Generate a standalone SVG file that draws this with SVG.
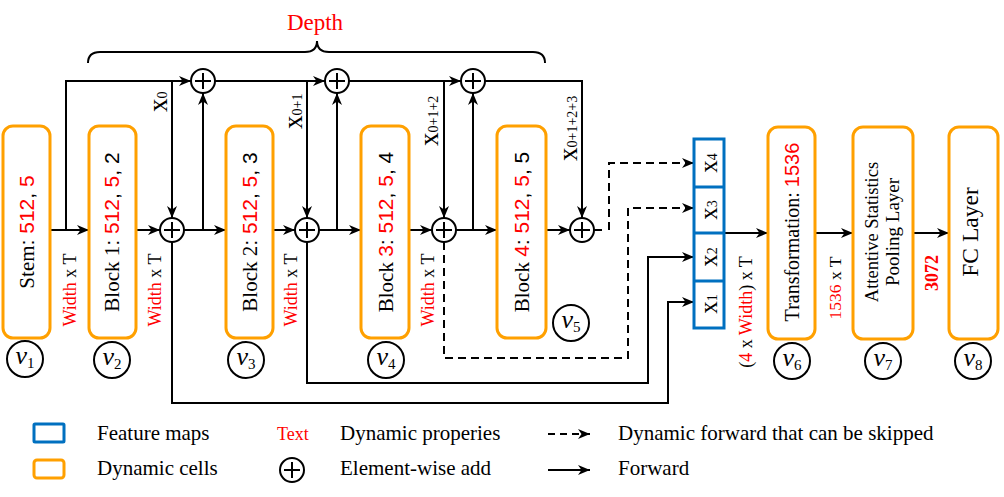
<svg xmlns="http://www.w3.org/2000/svg" width="1004" height="497" viewBox="0 0 1004 497">
<style>
.cell{fill:#fff;stroke:#FFA000;stroke-width:3}
.fm{fill:#fff;stroke:#0070C0;stroke-width:3}
.ln{fill:none;stroke:#000;stroke-width:2}
.dash{fill:none;stroke:#000;stroke-width:2;stroke-dasharray:8,5}
.add{fill:#fff;stroke:#000;stroke-width:2}
.serif{font-family:"Liberation Serif","Times New Roman",serif;fill:#000}
.sans{font-family:"Liberation Sans",Arial,sans-serif}
.red{fill:#FF0000}
.blk{fill:#000}
.lbl{font-size:21px}
.leg{font-family:"Liberation Serif","Times New Roman",serif;font-size:21px;fill:#000}
</style>
<defs>
<marker id="ah" viewBox="0 0 12 10" refX="12" refY="5" markerWidth="12" markerHeight="10" markerUnits="userSpaceOnUse" orient="auto"><path d="M0,0 L12,5 L0,10 L3.5,5 z" fill="#000"/></marker>
<g id="plus"><circle r="12" class="add"/><path d="M-8,0 H8 M0,-8 V8" stroke="#000" stroke-width="2"/></g>
</defs>

<!-- Depth brace -->
<g id="depth">
<path class="ln" d="M88,63 Q88,52 100,52 L305,52 Q317,52 317,41 Q317,52 329,52 L533,52 Q545,52 545,63"/>
<text x="315" y="30" text-anchor="middle" class="serif red" font-size="23" style="fill:#FF0000">Depth</text>
</g>

<g id="connectors">
<path class="ln" d="M50,230 H89" marker-end="url(#ah)"/>
<path class="ln" d="M66,230 V81 H191" marker-end="url(#ah)"/>
<path class="ln" d="M172,81 V218" marker-end="url(#ah)"/>
<path class="ln" d="M136,230 H160" marker-end="url(#ah)"/>
<path class="ln" d="M184,230 H226" marker-end="url(#ah)"/>
<path class="ln" d="M203,230 V93" marker-end="url(#ah)"/>
<path class="ln" d="M215,81 H325" marker-end="url(#ah)"/>
<path class="ln" d="M307,81 V218" marker-end="url(#ah)"/>
<path class="ln" d="M273,230 H295" marker-end="url(#ah)"/>
<path class="ln" d="M319,230 H361" marker-end="url(#ah)"/>
<path class="ln" d="M337,230 V93" marker-end="url(#ah)"/>
<path class="ln" d="M349,81 H461" marker-end="url(#ah)"/>
<path class="ln" d="M444,81 V218" marker-end="url(#ah)"/>
<path class="ln" d="M409,230 H432" marker-end="url(#ah)"/>
<path class="ln" d="M456,230 H497" marker-end="url(#ah)"/>
<path class="ln" d="M473,230 V93" marker-end="url(#ah)"/>
<path class="ln" d="M485,81 H582 V218" marker-end="url(#ah)"/>
<path class="ln" d="M546,230 H570" marker-end="url(#ah)"/>
<path class="ln" d="M594,230 H602"/>
<path class="dash" d="M609,230 V163 H694" marker-end="url(#ah)"/>
<path class="dash" d="M444,242 V358 H628 V208 H694" marker-end="url(#ah)"/>
<path class="ln" d="M307,242 V383 H648 V257 H694" marker-end="url(#ah)"/>
<path class="ln" d="M172,242 V403 H668 V302 H694" marker-end="url(#ah)"/>
<path class="ln" d="M724,233 H768" marker-end="url(#ah)"/>
<path class="ln" d="M815,233 H853" marker-end="url(#ah)"/>
<path class="ln" d="M913,233 H949" marker-end="url(#ah)"/>
</g>

<!-- add nodes -->
<g id="adds">
<use href="#plus" x="172" y="230"/>
<use href="#plus" x="307" y="230"/>
<use href="#plus" x="444" y="230"/>
<use href="#plus" x="582" y="230"/>
<use href="#plus" x="203" y="81"/>
<use href="#plus" x="337" y="81"/>
<use href="#plus" x="473" y="81"/>
</g>

<!-- x labels -->
<g id="xlabels" class="serif">
<text transform="translate(167,112) rotate(-90)"><tspan font-size="27">x</tspan><tspan font-size="14">0</tspan></text>
<text transform="translate(302,129) rotate(-90)"><tspan font-size="27">x</tspan><tspan font-size="14">0+1</tspan></text>
<text transform="translate(438,146) rotate(-90)"><tspan font-size="27">x</tspan><tspan font-size="14">0+1+2</tspan></text>
<text transform="translate(577,161) rotate(-90)"><tspan font-size="27">x</tspan><tspan font-size="14">0+1+2+3</tspan></text>
</g>

<!-- width labels -->
<g id="widthlabels" class="serif" font-size="18">
<text transform="translate(76,290) rotate(-90)" text-anchor="middle"><tspan class="red">Width</tspan> x T</text>
<text transform="translate(161,290) rotate(-90)" text-anchor="middle"><tspan class="red">Width</tspan> x T</text>
<text transform="translate(297,290) rotate(-90)" text-anchor="middle"><tspan class="red">Width</tspan> x T</text>
<text transform="translate(434,290) rotate(-90)" text-anchor="middle"><tspan class="red">Width</tspan> x T</text>
</g>

<g id="stem">
<rect class="cell" x="3" y="126" width="47" height="212" rx="10"/>
<text transform="translate(34,232) rotate(-90)" text-anchor="middle" class="lbl"><tspan class="serif">Stem</tspan><tspan class="sans blk">: </tspan><tspan class="sans red">512</tspan><tspan class="sans blk">, </tspan><tspan class="sans red">5</tspan></text>
</g>
<g id="block1">
<rect class="cell" x="89" y="126" width="47" height="212" rx="10"/>
<text transform="translate(119,232) rotate(-90)" text-anchor="middle" class="lbl"><tspan class="serif">Block 1</tspan><tspan class="sans blk">: </tspan><tspan class="sans red">512</tspan><tspan class="sans blk">, </tspan><tspan class="sans red">5</tspan><tspan class="sans blk">, 2</tspan></text>
</g>
<g id="block2">
<rect class="cell" x="226" y="126" width="47" height="212" rx="10"/>
<text transform="translate(257,232) rotate(-90)" text-anchor="middle" class="lbl"><tspan class="serif">Block 2</tspan><tspan class="sans blk">: </tspan><tspan class="sans red">512</tspan><tspan class="sans blk">, </tspan><tspan class="sans red">5</tspan><tspan class="sans blk">, 3</tspan></text>
</g>
<g id="block3">
<rect class="cell" x="361" y="126" width="48" height="212" rx="10"/>
<text transform="translate(393,232) rotate(-90)" text-anchor="middle" class="lbl"><tspan class="serif">Block </tspan><tspan class="sans red">3</tspan><tspan class="sans blk">: </tspan><tspan class="sans red">512</tspan><tspan class="sans blk">, </tspan><tspan class="sans red">5</tspan><tspan class="sans blk">, 4</tspan></text>
</g>
<g id="block4">
<rect class="cell" x="497" y="126" width="49" height="212" rx="10"/>
<text transform="translate(529,232) rotate(-90)" text-anchor="middle" class="lbl"><tspan class="serif">Block </tspan><tspan class="sans red">4</tspan><tspan class="sans blk">: </tspan><tspan class="sans red">512</tspan><tspan class="sans blk">, </tspan><tspan class="sans red">5</tspan><tspan class="sans blk">, 5</tspan></text>
</g>

<g id="featuremaps">
<rect class="fm" x="694" y="139" width="30" height="189"/>
<path d="M694,187 H724 M694,233 H724 M694,281 H724" stroke="#0070C0" stroke-width="3"/>
<g class="serif">
<text transform="translate(717,163) rotate(-90)" text-anchor="middle"><tspan font-size="25">x</tspan><tspan font-size="14">4</tspan></text>
<text transform="translate(717,210) rotate(-90)" text-anchor="middle"><tspan font-size="25">x</tspan><tspan font-size="14">3</tspan></text>
<text transform="translate(717,257) rotate(-90)" text-anchor="middle"><tspan font-size="25">x</tspan><tspan font-size="14">2</tspan></text>
<text transform="translate(717,304) rotate(-90)" text-anchor="middle"><tspan font-size="25">x</tspan><tspan font-size="14">1</tspan></text>
</g>
</g>
<text transform="translate(752,312) rotate(-90)" text-anchor="middle" class="serif" font-size="18">(<tspan class="red">4</tspan> x <tspan class="red">Width</tspan>) x T</text>

<g id="transformation">
<rect class="cell" x="768" y="127" width="47" height="212" rx="10"/>
<text transform="translate(799,232) rotate(-90)" text-anchor="middle"><tspan class="serif" font-size="20">Transformation: </tspan><tspan class="sans red" font-size="20">1536</tspan></text>
</g>
<text transform="translate(841,288) rotate(-90)" text-anchor="middle" class="serif" font-size="17.5"><tspan class="red">1536</tspan> x T</text>

<g id="pooling">
<rect class="cell" x="853" y="127" width="60" height="212" rx="10"/>
<text transform="translate(878,232) rotate(-90)" text-anchor="middle" class="serif" font-size="18.5">Attentive Statistics</text>
<text transform="translate(899,232) rotate(-90)" text-anchor="middle" class="serif" font-size="19">Pooling Layer</text>
</g>
<text transform="translate(938,273) rotate(-90)" text-anchor="middle" class="serif red" font-size="18" font-weight="bold" style="fill:#FF0000">3072</text>

<g id="fc">
<rect class="cell" x="949" y="127" width="49" height="212" rx="10"/>
<text transform="translate(978,232) rotate(-90)" text-anchor="middle" class="serif" font-size="23.5">FC Layer</text>
</g>

<!-- v labels -->
<g id="vlabels" class="serif">
<g><circle cx="25" cy="359" r="18" class="add"/><text x="25" y="364" text-anchor="middle"><tspan font-style="italic" font-size="26">v</tspan><tspan font-size="15" dy="4">1</tspan></text></g>
<g><circle cx="112" cy="360" r="18" class="add"/><text x="112" y="365" text-anchor="middle"><tspan font-style="italic" font-size="26">v</tspan><tspan font-size="15" dy="4">2</tspan></text></g>
<g><circle cx="246" cy="360" r="18" class="add"/><text x="246" y="365" text-anchor="middle"><tspan font-style="italic" font-size="26">v</tspan><tspan font-size="15" dy="4">3</tspan></text></g>
<g><circle cx="386" cy="360" r="18" class="add"/><text x="386" y="365" text-anchor="middle"><tspan font-style="italic" font-size="26">v</tspan><tspan font-size="15" dy="4">4</tspan></text></g>
<g><circle cx="571" cy="323" r="18" class="add"/><text x="571" y="328" text-anchor="middle"><tspan font-style="italic" font-size="26">v</tspan><tspan font-size="15" dy="4">5</tspan></text></g>
<g><circle cx="792" cy="361" r="18" class="add"/><text x="792" y="366" text-anchor="middle"><tspan font-style="italic" font-size="26">v</tspan><tspan font-size="15" dy="4">6</tspan></text></g>
<g><circle cx="883" cy="361" r="18" class="add"/><text x="883" y="366" text-anchor="middle"><tspan font-style="italic" font-size="26">v</tspan><tspan font-size="15" dy="4">7</tspan></text></g>
<g><circle cx="973" cy="361" r="18" class="add"/><text x="973" y="366" text-anchor="middle"><tspan font-style="italic" font-size="26">v</tspan><tspan font-size="15" dy="4">8</tspan></text></g>
</g>

<!-- legend -->
<g id="legend">
<rect x="34" y="424" width="30" height="18" rx="1" class="fm"/>
<rect x="34" y="460" width="30" height="18" rx="3" class="cell"/>
<text x="97" y="440" class="leg">Feature maps</text>
<text x="97" y="475" class="leg">Dynamic cells</text>
<text x="277" y="440" class="serif" font-size="18" style="fill:#FF0000">Text</text>
<use href="#plus" x="292" y="470"/>
<text x="340" y="440" class="leg">Dynamic properies</text>
<text x="340" y="475" class="leg">Element-wise add</text>
<path d="M548,434 H590" stroke="#000" stroke-width="2" stroke-dasharray="7,5" marker-end="url(#ah)"/>
<path d="M548,470 H590" stroke="#000" stroke-width="2" marker-end="url(#ah)"/>
<text x="618" y="440" class="leg">Dynamic forward that can be skipped</text>
<text x="618" y="475" class="leg">Forward</text>
</g>
</svg>
